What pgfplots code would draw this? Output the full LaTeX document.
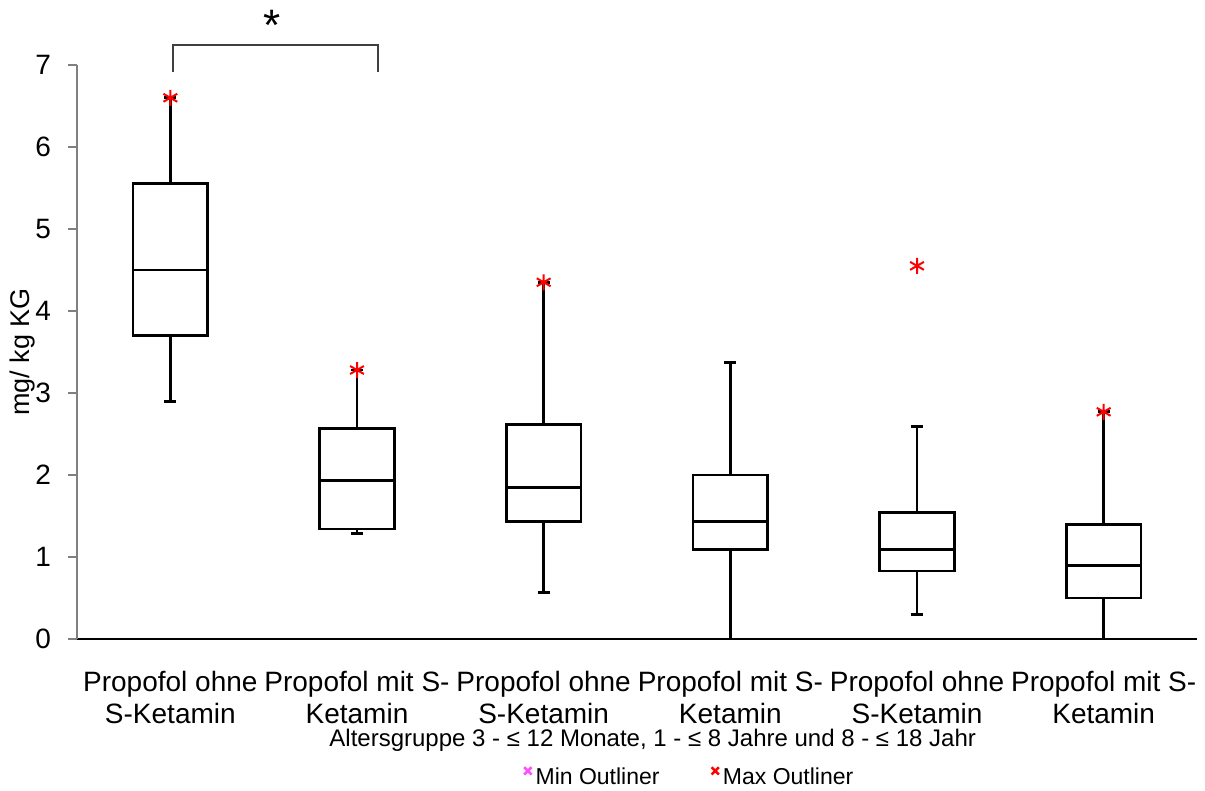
\documentclass[border=0pt]{standalone}
\usepackage{fontspec}
\setmainfont{Liberation Sans}
\usepackage{pgfplots}
\pgfplotsset{compat=1.18}
\usepgfplotslibrary{statistics}

\definecolor{axisgray}{RGB}{128,128,128}
\definecolor{minout}{RGB}{255,80,255}

\begin{document}
\begin{tikzpicture}
\begin{axis}[
  scale only axis,
  width=560pt, height=287pt,
  xmin=-0.5, xmax=5.5,
  ymin=0, ymax=7,
  clip=false,
  axis x line=bottom, axis y line=left,
  axis line style={-},
  x axis line style={black, line width=0.8pt},
  y axis line style={axisgray, line width=0.8pt},
  tick align=outside,
  ytick={0,1,...,7},
  ytick style={axisgray, line width=0.8pt},
  major tick length=4.5pt,
  xtick={0,...,5},
  xtick style={draw=none},
  minor xtick={-0.5,0.5,...,5.5},
  minor x tick style={axisgray, line width=0.8pt},
  minor tick length=4pt,
  xticklabels={{Propofol ohne\\S-Ketamin},{Propofol mit S-\\Ketamin},
               {Propofol ohne\\S-Ketamin},{Propofol mit S-\\Ketamin},
               {Propofol ohne\\S-Ketamin},{Propofol mit S-\\Ketamin}},
  xticklabel style={align=center, font=\fontsize{14}{16}\selectfont, yshift=-8pt},
  yticklabel style={font=\fontsize{14}{16}\selectfont, xshift=-5pt},
  /pgf/number format/assume math mode=true,
  ylabel={mg/ kg KG},
  ylabel style={at={(axis description cs:-0.049,0.5)}, anchor=center, rotate=0,
                font=\fontsize{13.5}{15}\selectfont},
  xlabel={Altersgruppe 3 - ≤ 12 Monate, 1 - ≤ 8 Jahre und 8 - ≤ 18 Jahr},
  xlabel style={at={(axis description cs:0.514,-0.1765)}, anchor=center,
                font=\fontsize{12}{14}\selectfont},
  legend style={draw=none, fill=none, legend columns=2,
                at={(axis description cs:0.548,-0.242)}, anchor=center,
                font=\fontsize{11.5}{13}\selectfont,
                /tikz/every even column/.append style={column sep=24pt}},
  legend cell align=left,
  boxplot/draw direction=y,
  boxplot/box extend=0.4,
  boxplot/whisker extend=0.065,
  boxplot/every box/.style={line width=1.4pt},
  boxplot/every median/.style={line width=1.4pt},
  boxplot/every whisker/.style={line width=1.4pt},
]
% Box plots: whisker ends, quartiles and median per group
\addplot[forget plot, black, line width=1.4pt, boxplot prepared={draw position=0,
  lower whisker=2.90, lower quartile=3.70, median=4.50,
  upper quartile=5.55, upper whisker=6.60}] coordinates {};
\addplot[forget plot, black, line width=1.4pt, boxplot prepared={draw position=1,
  lower whisker=1.29, lower quartile=1.34, median=1.93,
  upper quartile=2.57, upper whisker=3.28}] coordinates {};
\addplot[forget plot, black, line width=1.4pt, boxplot prepared={draw position=2,
  lower whisker=0.57, lower quartile=1.43, median=1.85,
  upper quartile=2.62, upper whisker=4.35}] coordinates {};
\addplot[forget plot, black, line width=1.4pt, boxplot prepared={draw position=3,
  lower whisker=0.00, lower quartile=1.09, median=1.43,
  upper quartile=2.00, upper whisker=3.37}] coordinates {};
\addplot[forget plot, black, line width=1.4pt, boxplot prepared={draw position=4,
  lower whisker=0.30, lower quartile=0.83, median=1.09,
  upper quartile=1.54, upper whisker=2.59}] coordinates {};
\addplot[forget plot, black, line width=1.4pt, boxplot prepared={draw position=5,
  lower whisker=0.00, lower quartile=0.50, median=0.90,
  upper quartile=1.40, upper whisker=2.77}] coordinates {};

% Maximum outliers
\addplot[only marks, mark=asterisk, mark size=4pt, red, line width=1pt,
  forget plot] coordinates {(0,6.60) (1,3.28) (2,4.35) (4,4.55) (5,2.77)};

% Legend entries
\addlegendimage{only marks, mark=x, mark size=2.6pt, minout, line width=1.3pt,
  mark options={yshift=3.5pt}}
\addlegendentry{Min Outliner}
\addlegendimage{only marks, mark=x, mark size=2.6pt, red, line width=1.3pt,
  mark options={yshift=3.5pt}}
\addlegendentry{Max Outliner}

% Significance bracket between the first two groups
\draw[black!75, line width=0.9pt] (axis cs:0.014,6.91) -- (axis cs:0.014,7.24)
  -- (axis cs:1.112,7.24) -- (axis cs:1.112,6.91);
\node[font=\fontsize{22}{24}\selectfont] at (axis cs:0.545,7.48) {*};

\coordinate (bbsw) at (rel axis cs:-0.06875,-0.2648);
\coordinate (bbne) at (rel axis cs:1.00714,1.1132);
\end{axis}
\pgfresetboundingbox
\path[use as bounding box] (bbsw) rectangle (bbne);
\end{tikzpicture}
\end{document}
